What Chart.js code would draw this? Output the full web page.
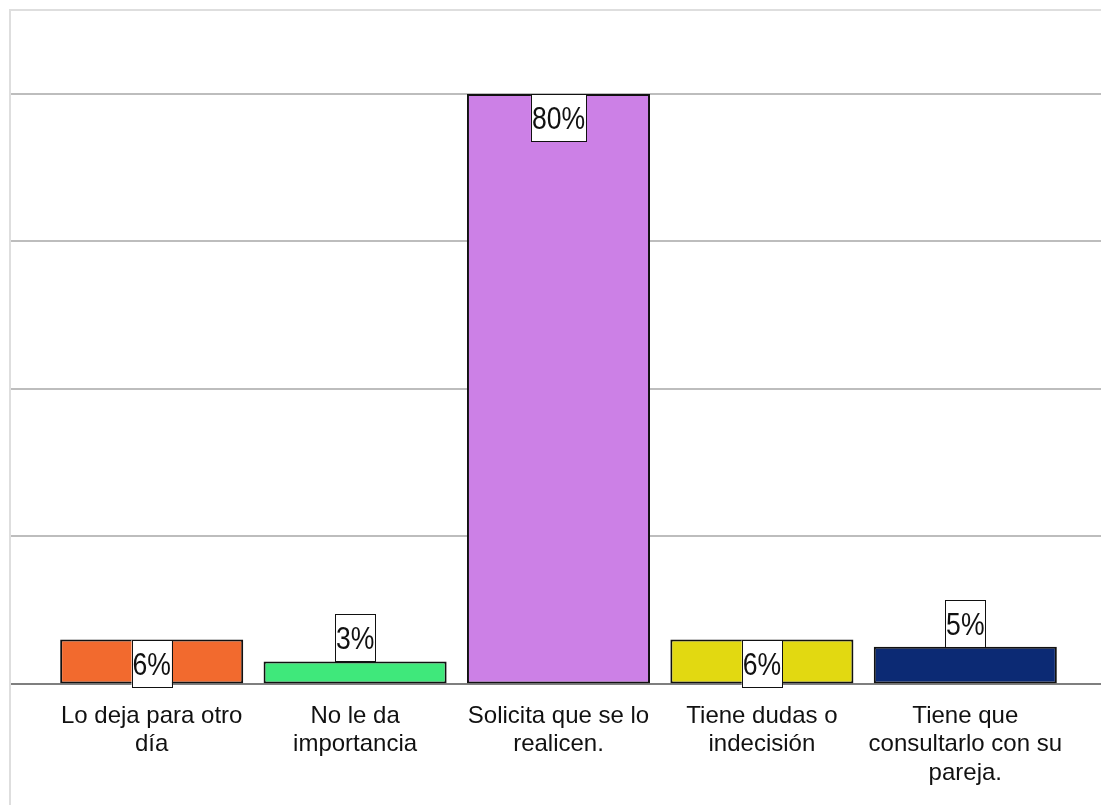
<!DOCTYPE html>
<html>
<head>
<meta charset="utf-8">
<script src="https://cdn.jsdelivr.net/npm/chart.js@4"></script>
<style>
  html, body { margin: 0; padding: 0; background: #ffffff; }
  #wrap { width: 1101px; height: 805px; }
</style>
</head>
<body>
<div id="wrap"><canvas id="chart" width="1101" height="805"></canvas></div>
<script>
// Categories (wrapped over several lines like the original)
const categories = [
    ['Lo deja para otro', 'día'],
    ['No le da', 'importancia'],
    ['Solicita que se lo', 'realicen.'],
    ['Tiene dudas o', 'indecisión'],
    ['Tiene que', 'consultarlo con su', 'pareja.']
];
// Percentages per category
const values = [6, 3, 80, 6, 5];
// Horizontal gridline values
const gridTicks = [0, 20, 40, 60, 80];

const barColors = ['#f26a2e', '#3fe87b', '#cc80e6', '#e2d911', '#0c2a74'];
// where each value box sits: centre of bar, outside the top, or inside the top
const labelPlacement = ['center', 'end', 'inside', 'center', 'end'];

const FONT = '"Liberation Sans Narrow", "Arial Narrow", "Liberation Sans", Arial, sans-serif';

// Frame + full-width gridlines behind the bars
const backdrop = {
    id: 'backdrop',
    beforeDatasetsDraw(chart) {
        const c = chart.ctx;
        const y = chart.scales.y;
        c.save();
        // light outer frame
        c.strokeStyle = '#dedede';
        c.lineWidth = 2;
        c.beginPath();
        c.moveTo(10, chart.height + 5);
        c.lineTo(10, 10);
        c.lineTo(chart.width + 5, 10);
        c.stroke();
        gridTicks.forEach(function(t) {
            const py = Math.round(y.getPixelForValue(t));
            c.beginPath();
            if (t === 0) {
                c.strokeStyle = '#555555';
                c.lineWidth = 1.5;
            } else {
                c.strokeStyle = '#bdbdbd';
                c.lineWidth = 2;
            }
            c.moveTo(11, py);
            c.lineTo(chart.width, py);
            c.stroke();
        });
        c.restore();
    }
};

// Boxed percentage labels (text squeezed a bit to look like a narrow face)
const valueBoxes = {
    id: 'valueBoxes',
    afterDatasetsDraw(chart) {
        const c = chart.ctx;
        const meta = chart.getDatasetMeta(0);
        const squeeze = 0.83;
        c.save();
        c.font = '32px ' + FONT;
        c.textAlign = 'center';
        c.textBaseline = 'alphabetic';
        meta.data.forEach(function(bar, i) {
            const text = values[i] + '%';
            const w = c.measureText(text).width * squeeze + 2;
            const h = 47;
            let top;
            if (labelPlacement[i] === 'end') top = bar.y - h;
            else if (labelPlacement[i] === 'inside') top = bar.y;
            else top = (bar.y + bar.base) / 2 - h / 2 + 2;
            const left = bar.x - w / 2;
            c.fillStyle = '#ffffff';
            c.fillRect(left, top, w, h);
            c.strokeStyle = '#111111';
            c.lineWidth = 1;
            c.strokeRect(Math.round(left) + 0.5, Math.round(top) + 0.5, Math.round(w), Math.round(h));
            c.save();
            c.translate(bar.x, top + h / 2 + 11.5);
            c.scale(squeeze, 1);
            c.fillStyle = '#111111';
            c.fillText(text, 0, 0);
            c.restore();
        });
        c.restore();
    }
};

const chart = new Chart(document.getElementById('chart').getContext('2d'), {
    type: 'bar',
    data: {
        labels: categories,
        datasets: [{
            data: values,
            backgroundColor: barColors,
            borderColor: '#111111',
            borderWidth: 2,
            borderSkipped: false,
            categoryPercentage: 1.0,
            barPercentage: 0.9
        }]
    },
    options: {
        responsive: false,
        animation: false,
        layout: {
            padding: { left: 50, right: 34, top: 94, bottom: 7 }
        },
        plugins: {
            legend: { display: false },
            tooltip: { enabled: false }
        },
        scales: {
            x: {
                grid: { display: false },
                border: { display: false },
                ticks: {
                    color: '#111111',
                    autoSkip: false,
                    maxRotation: 0,
                    padding: 10,
                    font: { family: FONT, size: 24, lineHeight: 1.2 }
                }
            },
            y: {
                display: false,
                min: 0,
                max: 80,
                ticks: { stepSize: 20 }
            }
        }
    },
    plugins: [backdrop, valueBoxes]
});
</script>
</body>
</html>
